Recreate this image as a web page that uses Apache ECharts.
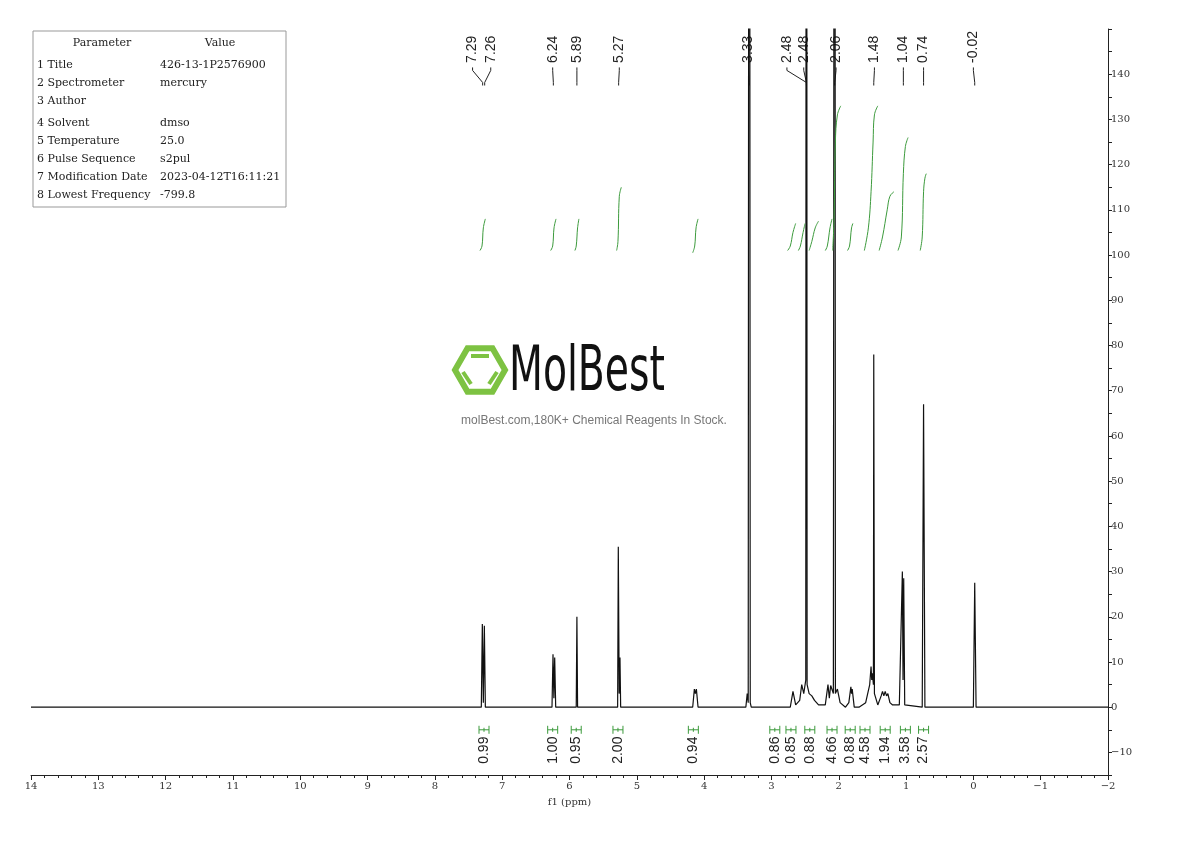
<!DOCTYPE html>
<html><head><meta charset="utf-8">
<script src="https://cdn.jsdelivr.net/npm/echarts@6/dist/echarts.min.js"></script>
<style>html,body{margin:0;padding:0;background:#fff}#c{width:1190px;height:841px}</style>
</head><body><div id="c"></div>
<script>
const spectrum = [[14,0],[7.9,0],[7.31,0],[7.295,18.4],[7.28,1],[7.265,18],[7.25,0],
[6.26,0],[6.245,11.7],[6.232,2],[6.22,11],[6.205,0],
[5.90,0],[5.89,20],[5.88,0],
[5.285,0],[5.275,35.5],[5.262,3],[5.25,11],[5.24,0],
[4.17,0],[4.145,4],[4.13,3],[4.115,4],[4.09,0],
[3.38,0],[3.36,3],[3.345,1],[3.33,400],[3.315,1],[3.30,0],
[2.72,0],[2.68,3.5],[2.64,0.5],[2.58,1.5],[2.55,5],[2.52,3],[2.49,6],[2.48,400],[2.47,5],[2.44,3],[2.40,2.5],[2.36,1.5],[2.30,0.5],[2.20,0.5],[2.16,5],[2.14,2],[2.12,4.8],[2.08,3],[2.06,400],[2.05,3],[2.02,4],[1.98,1],[1.9,0],[1.85,1],[1.82,4.5],[1.81,3],[1.80,4],[1.77,0],[1.7,0],[1.60,1],[1.54,5],[1.52,9],[1.51,6],[1.50,7.5],[1.485,5],[1.48,78],[1.47,3],[1.42,0.5],[1.37,2.5],[1.35,3.5],[1.33,2.5],[1.31,3.5],[1.29,2.5],[1.27,3],[1.24,1],[1.20,0.5],[1.1,0.5],[1.055,30],[1.045,6],[1.035,28.5],[1.02,0.5],[0.76,0],[0.74,67],[0.72,0],[0.0,0],[-0.02,27.5],[-0.04,0],[-2,0]];

const integrals = [
 [[7.33,101],[7.30,102],[7.28,106],[7.25,108]],
 [[6.28,101],[6.25,102],[6.23,106],[6.20,108]],
 [[5.92,101],[5.90,102],[5.88,106],[5.86,108]],
 [[5.30,101],[5.28,103],[5.26,113],[5.23,115]],
 [[4.17,100.5],[4.14,102],[4.12,106],[4.09,108]],
 [[2.76,101],[2.72,102],[2.68,105],[2.64,107]],
 [[2.60,101],[2.57,102],[2.53,105],[2.50,107]],
 [[2.44,101],[2.40,103],[2.35,106],[2.30,107.5]],
 [[2.20,101],[2.17,102],[2.13,106],[2.10,108]],
 [[2.09,101],[2.07,108],[2.05,125],[2.02,131],[1.97,133]],
 [[1.87,101],[1.84,102],[1.81,106],[1.79,107]],
 [[1.62,101],[1.56,106],[1.52,114],[1.49,125],[1.47,131],[1.42,133]],
 [[1.40,101],[1.35,104],[1.28,110],[1.24,113],[1.18,114]],
 [[1.12,101],[1.07,104],[1.04,118],[1.01,124],[0.97,126]],
 [[0.79,101],[0.76,104],[0.74,114],[0.72,117],[0.70,118]]
];

const peakLabels = ['7.29','7.26','6.24','5.89','5.27','3.33','2.48','2.48','2.06','1.48','1.04','0.74','-0.02'];
const peakPos    = [7.29,7.26,6.24,5.89,5.27,3.33,2.48,2.48,2.06,1.48,1.04,0.74,-0.02];
const peakLabelPos = [7.44,7.17,6.25,5.89,5.26,3.34,2.77,2.52,2.04,1.47,1.04,0.74,0.0];

const intLabels = ['0.99','1.00','0.95','2.00','0.94','0.86','0.85','0.88','4.66','0.88','4.58','1.94','3.58','2.57'];
const intPos = [7.27,6.25,5.90,5.28,4.16,2.95,2.71,2.43,2.10,1.83,1.61,1.31,1.01,0.74];

const params = [['Parameter','Value'],['1 Title','426-13-1P2576900'],['2 Spectrometer','mercury'],['3 Author',''],['4 Solvent','dmso'],['5 Temperature','25.0'],['6 Pulse Sequence','s2pul'],['7 Modification Date','2023-04-12T16:11:21'],['8 Lowest Frequency','-799.8']];
const rowY = [43,65,83,101,123,141,159,177,195];

const G = '#3c9a3c';
const FONT = '"Liberation Sans",Arial,sans-serif';
const chart = echarts.init(document.getElementById('c'));
const graphics = [{type:'rect',shape:{x:33,y:31,width:253,height:176},style:{fill:'#fff',stroke:'#999',lineWidth:1}}];
params.forEach((r,i)=>{
  const hdr = i===0;
  graphics.push({type:'text',x:hdr?102:37,y:rowY[i],style:{text:r[0],fill:'#222',font:'11px "DejaVu Serif","Liberation Serif",serif',align:hdr?'center':'left',verticalAlign:'middle'}});
  graphics.push({type:'text',x:hdr?220:160,y:rowY[i],style:{text:r[1],fill:'#222',font:'11px "DejaVu Serif","Liberation Serif",serif',align:hdr?'center':'left',verticalAlign:'middle'}});
});
const hx=480, hy=370, R=25;
const hex=[];
for(let k=0;k<6;k++){const a=Math.PI/3*k; hex.push([hx+R*Math.cos(a),hy+R*Math.sin(a)]); }
graphics.push({type:'polygon',shape:{points:hex},style:{fill:'none',stroke:'#7dc242',lineWidth:6}});
graphics.push({type:'line',shape:{x1:hx-9,y1:hy-14,x2:hx+9,y2:hy-14},style:{stroke:'#7dc242',lineWidth:4}});
graphics.push({type:'line',shape:{x1:hx-17,y1:hy+2,x2:hx-9,y2:hy+14},style:{stroke:'#7dc242',lineWidth:4}});
graphics.push({type:'line',shape:{x1:hx+17,y1:hy+2,x2:hx+9,y2:hy+14},style:{stroke:'#7dc242',lineWidth:4}});
graphics.push({type:'text',x:509,y:374,scaleX:0.78,scaleY:1.1,style:{text:'MolBest',fill:'#111',font:'56px "DejaVu Sans Condensed","Liberation Sans Narrow",sans-serif',align:'left',verticalAlign:'middle'}});
graphics.push({type:'text',x:594,y:421,style:{text:'molBest.com,180K+ Chemical Reagents In Stock.',fill:'#777',font:'12px '+FONT,align:'center',verticalAlign:'middle'}});

const series = [{type:'line',data:spectrum,showSymbol:false,symbol:'none',lineStyle:{color:'#111',width:1.2},clip:true,silent:true,z:3}];
integrals.forEach(d=>series.push({type:'line',data:d,smooth:0.4,symbol:'none',lineStyle:{color:G,width:1},silent:true}));
series.push({type:'custom',silent:true,clip:false,data:peakLabelPos.map((v,i)=>[v,peakPos[i]]),
 renderItem:(p,api)=>{
  const lx=api.coord([api.value(0),0])[0], px=api.coord([api.value(1),0])[0];
  const yt=api.coord([0,142.5])[1], y1=api.coord([0,141.5])[1], y2=api.coord([0,137.5])[1];
  return {type:'group',children:[
   {type:'text',x:lx,y:yt,rotation:Math.PI/2,style:{text:peakLabels[p.dataIndex],fill:'#222',font:'14px '+FONT,align:'left',verticalAlign:'middle'}},
   {type:'polyline',shape:{points:[[lx,y1],[lx,y1+3],[px,y2-3],[px,y2]]},style:{stroke:'#222',lineWidth:1,fill:'none'}}]};
 }});
series.push({type:'custom',silent:true,clip:false,data:intPos.map(v=>[v,0]),
 renderItem:(p,api)=>{
  const c=api.coord([api.value(0),-5]); const x=c[0], y=c[1]; const w=5;
  const yt=api.coord([0,-6.5])[1];
  return {type:'group',children:[
   {type:'line',shape:{x1:x-w,y1:y,x2:x+w,y2:y},style:{stroke:G,lineWidth:1}},
   {type:'line',shape:{x1:x-w,y1:y-4,x2:x-w,y2:y+4},style:{stroke:G,lineWidth:1}},
   {type:'line',shape:{x1:x+w,y1:y-4,x2:x+w,y2:y+4},style:{stroke:G,lineWidth:1}},
   {type:'line',shape:{x1:x,y1:y-2,x2:x,y2:y+2},style:{stroke:G,lineWidth:1}},
   {type:'text',x:x,y:yt,rotation:Math.PI/2,style:{text:intLabels[p.dataIndex],fill:'#222',font:'14px '+FONT,align:'right',verticalAlign:'middle'}}]};
 }});

chart.setOption({
 animation:false,
 grid:{left:31,right:82,top:29,bottom:66},
 xAxis:{type:'value',inverse:true,min:-2,max:14,interval:1,
  name:'f1 (ppm)',nameLocation:'middle',nameGap:22,nameTextStyle:{fontFamily:'DejaVu Serif,serif',fontSize:10,color:'#333'},
  axisLine:{show:true,onZero:false,lineStyle:{color:'#222'}},axisTick:{show:true,length:5,lineStyle:{color:'#222'}},
  minorTick:{show:true,splitNumber:5,length:3,lineStyle:{color:'#222'}},
  axisLabel:{fontFamily:'DejaVu Serif,serif',fontSize:10,color:'#333',margin:6,formatter:v=>v<0?'\u2212'+(-v):String(v)},
  splitLine:{show:false}},
 yAxis:{type:'value',position:'right',min:-15,max:150,interval:5,
  axisLine:{show:true,onZero:false,lineStyle:{color:'#222'}},axisTick:{show:true,inside:false,length:4,lineStyle:{color:'#222'}},
  axisLabel:{fontFamily:'DejaVu Serif,serif',fontSize:10,color:'#333',margin:3,
   formatter:v=>(v%10!==0||v<-10||v>140)?'':(v<0?'\u2212'+(-v):String(v))},
  splitLine:{show:false}},
 graphic:graphics,
 series:series
});
</script></body></html>
